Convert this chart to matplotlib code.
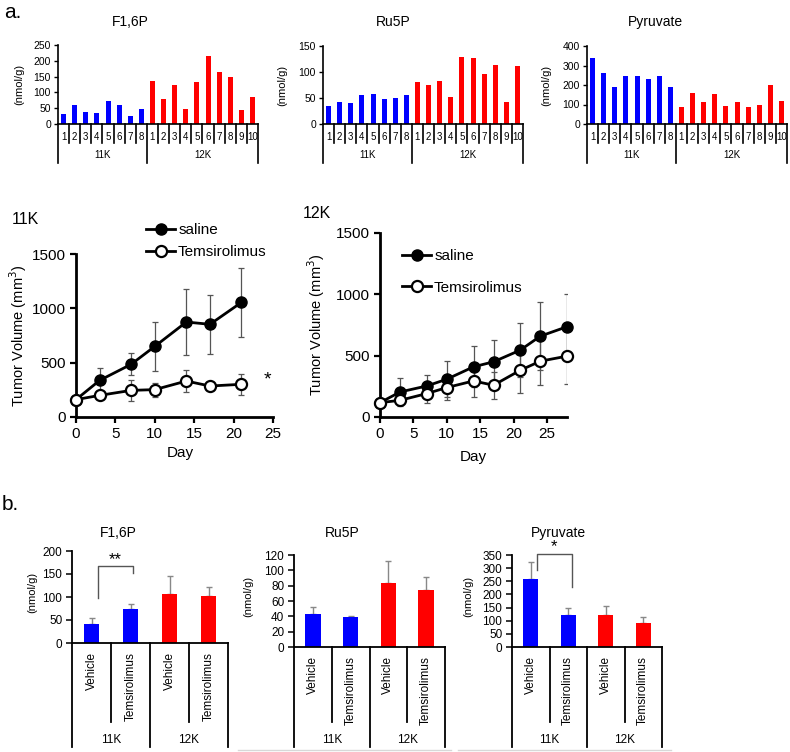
import matplotlib
matplotlib.use("Agg")
import matplotlib.pyplot as plt
from matplotlib.transforms import blended_transform_factory
from matplotlib.lines import Line2D

plt.rcParams['font.family'] = ['Liberation Sans', 'DejaVu Sans']

# ---------------- data ----------------
top_numbers_11k = ['1', '2', '3', '4', '5', '6', '7', '8']
top_numbers_12k = ['1', '2', '3', '4', '5', '6', '7', '8', '9', '10']
groups = ['11K', '12K']

f16p_11k = [31, 59, 38, 35, 74, 61, 24, 46]
f16p_12k = [137, 79, 123, 49, 133, 214, 166, 150, 44, 84]
ru5p_11k = [34, 43, 40, 55, 57, 49, 50, 55]
ru5p_12k = [81, 75, 83, 52, 128, 126, 97, 113, 42, 111]
pyr_11k = [341, 263, 188, 244, 246, 230, 244, 188]
pyr_12k = [86, 159, 114, 154, 92, 114, 85, 100, 200, 119]

days_11k = [0, 3, 7, 10, 14, 17, 21]
saline_11k = [160, 337, 485, 650, 874, 853, 1055]
saline_11k_err = [0, 115, 100, 225, 305, 270, 315]
tem_11k = [160, 199, 245, 252, 331, 285, 301]
tem_11k_err = [0, 30, 95, 65, 100, 20, 97]

days_12k = [0, 3, 7, 10, 14, 17, 21, 24, 28]
saline_12k = [117, 204, 253, 308, 409, 450, 545, 659, 736]
saline_12k_err = [0, 117, 90, 147, 166, 177, 218, 276, 264]
tem_12k = [117, 136, 191, 240, 294, 259, 381, 455, 496]
tem_12k_err = [0, 40, 80, 98, 131, 109, 182, 196, 224]

b_cats = ['Vehicle', 'Temsirolimus', 'Vehicle', 'Temsirolimus']
b_f16p = [41, 74, 106, 102]
b_f16p_err = [13, 10, 40, 19]
b_ru5p = [43, 39, 84, 74]
b_ru5p_err = [9, 1, 28, 17]
b_pyr = [260, 120, 121, 92]
b_pyr_err = [65, 28, 34, 23]

BLUE = '#0000ff'
RED = '#ff0000'

W, H = 790, 752
fig = plt.figure(figsize=(W / 100, H / 100), dpi=100)


def rect(l, t, r, b):
    return [l / W, 1 - b / H, (r - l) / W, (b - t) / H]


def ft(x, y, s, **kw):
    fig.text(x / W, 1 - y / H, s, **kw)


def style_axes(ax, lw=1.2):
    for s in ['top', 'right']:
        ax.spines[s].set_visible(False)
    for s in ['left', 'bottom']:
        ax.spines[s].set_linewidth(lw)
        ax.spines[s].set_color('black')


def category_axis(ax, y0, t, bounds_short, bounds_long, y_short, y_long,
                  labels, label_y, glabels, glabel_centers, glabel_y,
                  fs, gfs, lw=1.2, rotate=False):
    h = y0 - t
    trans = blended_transform_factory(ax.transData, ax.transAxes)
    for x in bounds_short:
        ax.plot([x, x], [0, -(y_short - y0) / h], transform=trans,
                clip_on=False, color='black', lw=lw)
    for x in bounds_long:
        ax.plot([x, x], [0, -(y_long - y0) / h], transform=trans,
                clip_on=False, color='black', lw=lw)
    for i, lab in enumerate(labels):
        if rotate:
            ax.text(i + 0.5, -(label_y - y0) / h, lab, transform=trans,
                    rotation=90, ha='center', va='top', fontsize=fs)
        else:
            ax.text(i + 0.5, -(label_y - y0) / h, lab, transform=trans,
                    ha='center', va='center', fontsize=fs)
    for c, g in zip(glabel_centers, glabels):
        ax.text(c, -(glabel_y - y0) / h, g, transform=trans,
                ha='center', va='center', fontsize=gfs)


# ---------------- panel a: top row ----------------
def top_bar(l, t, r, b, v11, v12, ymax, step, title, title_x, ylab_x):
    ax = fig.add_axes(rect(l, t, r, b))
    vals = v11 + v12
    n = len(vals)
    colors = [BLUE] * len(v11) + [RED] * len(v12)
    xs = [i + 0.5 for i in range(n)]
    ax.bar(xs, vals, width=0.45, color=colors)
    ax.set_xlim(0, n)
    ax.set_ylim(0, ymax)
    ax.set_yticks(list(range(0, ymax + 1, step)))
    ax.set_xticks([])
    style_axes(ax, 1.2)
    ax.tick_params(axis='y', direction='out', length=3, width=1, pad=2,
                   labelsize=7.5)
    n11 = len(v11)
    short = [i for i in range(1, n) if i != n11]
    category_axis(ax, b, t, short, [0, n11, n], 143, 163,
                  top_numbers_11k + top_numbers_12k, 137,
                  groups, [n11 / 2, n11 + len(v12) / 2], 155, 7, 7)
    ft(title_x, 22, title, ha='center', va='center', fontsize=10)
    ft(ylab_x, (t + b) / 2, '(nmol/g)', rotation=90, ha='center',
       va='center', fontsize=8)
    return ax


top_bar(58, 45, 258, 124, f16p_11k, f16p_12k, 250, 50, 'F1,6P', 130, 19)
top_bar(323, 46, 523, 124, ru5p_11k, ru5p_12k, 150, 50, 'Ru5P', 393, 282)
top_bar(587, 46, 787, 124, pyr_11k, pyr_12k, 400, 100, 'Pyruvate', 655, 546)

ft(4, 13, 'a.', ha='left', va='center', fontsize=15)


# ---------------- panel a: growth curves ----------------
def growth(l, t, r, b, days, sal, sal_e, tem, tem_e, xmax, title, tx, ty,
           leg_x, leg_y, leg_sp, ylab_x, day_x, day_y):
    ax = fig.add_axes(rect(l, t, r, b))
    ax.errorbar(days, sal, yerr=sal_e, fmt='none', ecolor='#555555',
                elinewidth=0.9, capsize=2.5, capthick=0.9, zorder=1)
    ax.errorbar(days, tem, yerr=tem_e, fmt='none', ecolor='#555555',
                elinewidth=0.9, capsize=2.5, capthick=0.9, zorder=1)
    ax.plot(days, sal, '-o', color='black', lw=2, ms=8, mfc='black',
            mec='black', zorder=3, clip_on=False, label='saline')
    ax.plot(days, tem, '-o', color='black', lw=2, ms=8, mfc='white',
            mec='black', mew=1.6, zorder=4, clip_on=False,
            label='Temsirolimus')
    ax.set_xlim(0, xmax)
    ax.set_ylim(0, 1500)
    ax.set_xticks([0, 5, 10, 15, 20, 25])
    ax.set_yticks([0, 500, 1000, 1500])
    style_axes(ax, 2)
    ax.tick_params(direction='out', length=4, width=1.6, labelsize=11,
                   pad=3)
    ft(tx, ty, title, ha='left', va='center', fontsize=11.5)
    ft(ylab_x, (t + b) / 2, 'Tumor Volume (mm$^3$)', rotation=90,
       ha='center', va='center', fontsize=10.5)
    ft(day_x, day_y, 'Day', ha='center', va='center', fontsize=11)
    ax.legend(loc='upper left', bbox_to_anchor=(leg_x / W, 1 - leg_y / H),
              bbox_transform=fig.transFigure, frameon=False,
              fontsize=11, handlelength=1.9, handletextpad=0.2,
              borderpad=0, borderaxespad=0, labelspacing=leg_sp)
    return ax


growth(76, 254, 273, 417, days_11k, saline_11k, saline_11k_err, tem_11k,
       tem_11k_err, 25, '11K', 12, 220, 146, 223, 0.55, 18, 180, 453)
ft(267, 380, '*', ha='center', va='center', fontsize=14)

growth(380, 233, 567, 417, days_12k, saline_12k, saline_12k_err, tem_12k,
       tem_12k_err, 28, '12K', 303, 213, 402, 249, 1.15, 316, 473, 457)


# ---------------- panel b ----------------
def bottom_bar(l, t, r, b, vals, errs, ymax, step, title, title_x, ylab_x):
    ax = fig.add_axes(rect(l, t, r, b))
    xs = [i + 0.5 for i in range(4)]
    ax.bar(xs, vals, width=0.41, color=[BLUE, BLUE, RED, RED], zorder=2)
    ax.errorbar(xs, vals, yerr=[[0] * 4, errs], fmt='none', ecolor='#888888',
                elinewidth=1, capsize=2, capthick=1, zorder=1)
    ax.set_xlim(0, 4)
    ax.set_ylim(0, ymax)
    ax.set_yticks(list(range(0, ymax + 1, step)))
    ax.set_xticks([])
    style_axes(ax, 1.3)
    ax.tick_params(axis='y', direction='out', length=4, width=1.1, pad=3,
                   labelsize=8.5)
    category_axis(ax, b, t, [1, 3], [0, 2, 4], 722, 747, b_cats, b + 9,
                  groups, [1, 3], 740, 8.5, 8.5, lw=1.3, rotate=True)
    ft(title_x, 533, title, ha='center', va='center', fontsize=10)
    ft(ylab_x, (t + b) / 2 - 5, '(nmol/g)', rotation=90, ha='center',
       va='center', fontsize=8)
    return ax


ax1 = bottom_bar(72, 551, 228, 643, b_f16p, b_f16p_err, 200, 50, 'F1,6P',
                 118, 32)
ax1.plot([0.67, 0.67, 1.56, 1.56], [98, 167, 167, 152], color='#555555',
         lw=1, clip_on=False)
ax1.text(1.12, 166, '**', ha='center', va='bottom', fontsize=12)

bottom_bar(294, 555, 445, 647, b_ru5p, b_ru5p_err, 120, 20, 'Ru5P', 342, 248)

ax3 = bottom_bar(512, 555, 662, 647, b_pyr, b_pyr_err, 350, 50, 'Pyruvate',
                 558, 468)
ax3.plot([0.67, 0.67, 1.6, 1.6], [293, 354, 354, 228], color='#555555',
         lw=1, clip_on=False)
ax3.text(1.12, 352, '*', ha='center', va='bottom', fontsize=12)

ft(2, 505, 'b.', ha='left', va='center', fontsize=15)

# faint rules under the lower panels
fig.add_artist(Line2D([238 / W, 451 / W], [1 - 750 / H, 1 - 750 / H],
                      color='#d8d8d8', lw=1))
fig.add_artist(Line2D([458 / W, 671 / W], [1 - 750 / H, 1 - 750 / H],
                      color='#d8d8d8', lw=1))

fig.savefig('out.png', dpi=100)
